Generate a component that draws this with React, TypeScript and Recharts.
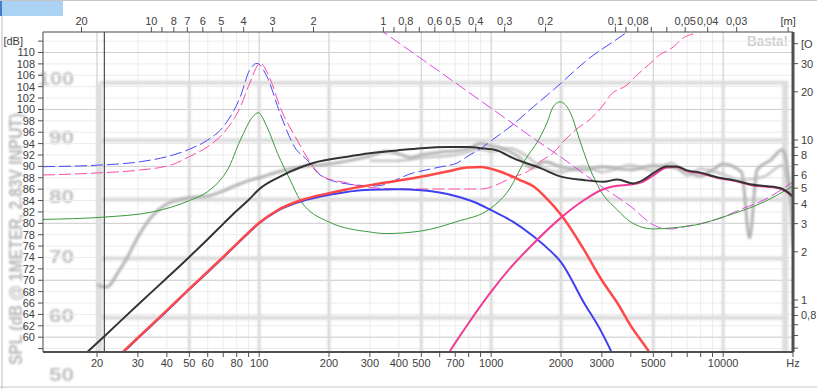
import React from 'react';
import { LineChart, Line, XAxis, YAxis, CartesianGrid, ReferenceLine } from 'recharts';

// scale limits
const F_MIN = 11.7;
const F_MAX = 20000;
const FLOOR = 57.4; // bottom of the dB scale
const DB_MAX = 113.6;
const OHM_MIN = 0.473;
const OHM_MAX = 47.3;
const SOUND = 343; // m/s, top axis is wavelength

const FREQ_TICKS = [20, 30, 40, 50, 60, 70, 80, 90, 100, 200, 300, 400, 500, 600, 700, 800, 900, 1000, 2000, 3000, 4000, 5000, 6000, 7000, 8000, 9000, 10000, 20000];
const FREQ_SILENT = [70, 90, 600, 800, 900, 4000, 6000, 7000, 8000, 9000];
const TOP_M = [20, 10, 9, 8, 7, 6, 5, 4, 3, 2, 1, 0.9, 0.8, 0.7, 0.6, 0.5, 0.4, 0.3, 0.2, 0.1, 0.09, 0.08, 0.07, 0.06, 0.05, 0.04, 0.03, 0.018];
const TOP_SILENT = [9, 0.9, 0.7, 0.09, 0.07, 0.06];
const DB_TICKS = [58, 60, 62, 64, 66, 68, 70, 72, 74, 76, 78, 80, 82, 84, 86, 88, 90, 92, 94, 96, 98, 100, 102, 104, 106, 108, 110, 112];
const OHM_TICKS = [0.5, 0.6, 0.7, 0.8, 0.9, 1, 2, 3, 4, 5, 6, 7, 8, 9, 10, 20, 30, 40];
const OHM_LABELED = [0.8, 1, 2, 3, 4, 5, 6, 8, 10, 20, 30];

const GRID_F_STRONG = [20, 50, 100, 200, 500, 1000, 2000, 5000, 10000];
const GRID_DB_STRONG = [60, 70, 80, 90, 100, 110];
const MARKER_F = 21.5;

// background scan (measured response) - its grid in our dB units
const BG_LEVELS = [104.7, 94.6, 84.2, 73.8, 63.4];
const BG_FREQS = [20.5, 50, 100, 200, 500, 1000, 2000, 5000, 10000, 18500];
const BG_LABELS = ['100', '90', '80', '70', '60', '50'];

// [Hz, dB]
const bgTraceA = [[20, 69.2], [22, 68.8], [25, 71.8], [27, 74], [30, 77.6], [35, 81.5], [40, 83.4], [45, 84.1], [50, 84.5], [60, 84.8], [70, 85.7], [80, 86.7], [90, 87.5], [100, 88.0], [120, 89.0], [150, 89.9], [200, 90.4], [250, 91.1], [300, 91.8], [350, 92.6], [400, 92.2], [450, 91.5], [500, 92.0], [600, 92.5], [700, 92.7], [800, 93.1], [900, 94.0], [1000, 93.6], [1100, 93.3], [1300, 91.8], [1500, 89.7], [1700, 90.8], [2000, 89.9], [2500, 89.4], [3000, 89.9], [4000, 89.4], [5000, 90.1], [6000, 89.9], [7000, 89.0], [8000, 88.3], [9000, 89.4], [10000, 90.4], [12000, 89.0], [13000, 77.4], [14000, 89.4], [16000, 91.1], [18000, 92.9], [19500, 84.1], [20000, 76.2]];
const bgTraceB = [[300, 91.0], [400, 91.0], [500, 91.5], [700, 92.0], [900, 93.0], [1000, 92.6], [1200, 93.2], [1400, 92.0], [1600, 90.2], [2000, 89.0], [2500, 90.0], [3000, 89.0], [4000, 90.2], [5000, 89.2], [6000, 90.6], [7000, 88.4], [8000, 89.6], [10000, 88.6], [12000, 87.6], [15000, 88.2], [18000, 90.2], [20000, 82.0]];

const sumSpl = [[11.7, 50.1], [16, 55.3], [21.3, 60], [30, 65.7], [40, 70.4], [50, 74.1], [60, 77.2], [70, 79.9], [80, 82.2], [90, 84.1], [100, 86.0], [123, 88.2], [150, 89.8], [171, 90.6], [240, 91.7], [300, 92.3], [393, 92.8], [500, 93.2], [646, 93.4], [800, 93.4], [900, 93.2], [1060, 92.8], [1250, 91.4], [1630, 89.7], [2000, 88.2], [2500, 87.6], [3050, 87.3], [3500, 87.7], [4100, 87.0], [4600, 87.8], [5000, 88.8], [5700, 90.0], [6300, 90.0], [7000, 89.3], [8000, 88.9], [9600, 88.0], [11000, 87.6], [13300, 86.8], [17600, 86.2], [20000, 84.7]];
const wooferA = [[11.7, 44.0], [20, 53.0], [26, 57.4], [30, 59.8], [40, 64.6], [50, 68.4], [60, 71.4], [70, 74.0], [80, 76.3], [90, 78.3], [100, 80.0], [120, 82.2], [150, 83.8], [200, 85.0], [300, 85.9], [400, 86.0], [500, 85.8], [600, 85.4], [700, 84.8], [850, 83.7], [1000, 82.3], [1250, 80.2], [1500, 77.9], [1750, 75.6], [2000, 73.2], [2500, 66.2], [3000, 60.8], [3300, 57.4], [4000, 49.0]];
const wooferB = [[11.7, 44.1], [20, 53.1], [26, 57.5], [30, 59.9], [40, 64.7], [50, 68.5], [60, 71.5], [70, 74.1], [80, 76.4], [90, 78.4], [100, 80.1], [120, 82.3], [150, 84.0], [200, 85.3], [240, 86.0], [330, 87.0], [460, 87.9], [646, 89.1], [790, 89.8], [900, 89.9], [1090, 89.1], [1330, 87.6], [1520, 86.5], [1750, 84.2], [2000, 81.5], [2500, 75.5], [3000, 70.0], [3500, 66.0], [4000, 62.0], [4800, 57.4], [5500, 53.5]];
const tweeter = [[500, 49.8], [600, 54.8], [660, 57.4], [700, 59.0], [800, 62.5], [1000, 68.0], [1200, 72.0], [1500, 76.2], [2000, 81.0], [2500, 84.0], [3000, 85.9], [3500, 86.6], [4000, 86.8], [4500, 87.3], [5000, 88.4], [5700, 89.8], [6300, 89.9], [7000, 89.2], [8000, 88.8], [9600, 87.9], [11000, 87.5], [13300, 86.7], [17600, 86.1], [20000, 84.6]];

// [Hz, Ohm]
const zSystem = [[11.7, 3.19], [21, 3.29], [35, 3.56], [50, 4.18], [60, 4.76], [68, 5.62], [73, 6.49], [83, 10], [94, 14.0], [99, 14.8], [108, 12.1], [120, 8.25], [136, 5.62], [150, 4.22], [200, 3.07], [300, 2.66], [350, 2.6], [500, 2.7], [700, 3.07], [1000, 3.76], [1200, 4.94], [1400, 7.5], [1600, 10], [1740, 12.8], [1850, 16.1], [1980, 17.3], [2200, 14.7], [2430, 9.58], [2680, 6.49], [2950, 4.87], [3500, 3.65], [4000, 3.07], [5000, 2.78], [6000, 2.82], [8000, 2.99], [10000, 3.3], [15000, 4.1], [20000, 5.16]];
const zWooferA = [[11.7, 6.81], [21, 6.98], [30.7, 7.31], [42.6, 8.06], [50, 8.75], [60, 10], [70, 12.1], [83, 18.7], [91, 27.4], [98, 30.1], [108, 24.9], [123, 14.7], [143, 8.91], [161, 7.5], [183, 6.04], [240, 5.31], [316, 5.16], [461, 6.22], [602, 6.78], [713, 7.18], [795, 7.94], [922, 9.04], [1010, 10], [1205, 12.06], [1518, 16.1], [1850, 20.5], [2590, 31.6], [3850, 47.3], [5000, 64]];
const zWooferB = [[11.7, 6.04], [21.3, 6.25], [30.7, 6.49], [42.6, 7.05], [50, 7.87], [60, 9.08], [70, 11.0], [83, 16.1], [91, 22.6], [101, 30.1], [112, 23.7], [123, 16.1], [143, 10.5], [189, 5.9], [240, 5.38], [281, 5.1], [405, 4.94], [733, 4.94], [898, 4.94], [1250, 5.87], [1470, 6.49], [1620, 7.3], [1850, 8.3], [2080, 10], [2370, 11.9], [2590, 13], [3040, 16.5], [3270, 19.1], [3850, 22.1], [4170, 24.8], [4930, 30.8], [5190, 33.1], [6090, 38.1], [6720, 43.4], [7700, 47.3], [9000, 58]];
const zTweeter = [[250, 65.8], [343, 47.3], [500, 32.2], [700, 22.8], [1000, 15.8], [1500, 10.4], [2000, 7.8], [3000, 5.1], [4000, 3.84], [5000, 2.95], [5500, 2.8], [6000, 2.78], [7000, 2.9], [8000, 3.0], [10000, 3.3], [12000, 3.7], [15000, 4.22], [20000, 5.47]];

const pts = (a: number[][]) => a.map(([f, v]) => ({ f, v }));
const comma = (n: number) => String(n).replace('.', ',');

const fmtFreq = (v: number) => {
  if (v === 20000) return 'Hz';
  if (FREQ_SILENT.includes(v)) return '';
  return String(v);
};

const fmtTop = (_v: number, i: number) => {
  const m = TOP_M[i];
  if (m === 0.018) return '[m]';
  if (TOP_SILENT.includes(m)) return '';
  return comma(m);
};

// unit label is cut by the window edge in the original, only "[O" shows
const fmtOhm = (v: number) => {
  if (v === 40) return '[O';
  return OHM_LABELED.includes(v) ? comma(v) : '';
};

const DbTick = (p: any) => {
  const v = p.payload.value;
  const label = v === 112 ? '[dB]' : v < 60 ? '' : String(v);
  return (
    <text x={v === 112 ? p.x - 12 : p.x} y={p.y} dy={4} textAnchor="end" fontSize={11} fill="#404040">
      {label}
    </text>
  );
};

const axisFont = { fontSize: 11, fill: '#404040' };

export default function App() {
  return (
    <div style={{ position: 'absolute', left: 0, top: 0, width: 817, height: 389, overflow: 'hidden', background: '#fff', fontFamily: '"Liberation Sans", Arial, sans-serif' }}>
      <style>{`.bgtrace, .bgline, .bgtext { filter: blur(0.9px); }`}</style>

      {/* window chrome + blurred scan labels behind the chart */}
      <svg width={817} height={389} style={{ position: 'absolute', left: 0, top: 0 }}>
        <line x1={0} y1={0.5} x2={817} y2={0.5} stroke="#c4c4c4" />
        <rect x={0} y={1} width={63} height={15} fill="#abd1f3" />
        <rect x={0} y={1} width={2} height={15} fill="#3f7fc6" />
        <line x1={2} y1={16} x2={2} y2={389} stroke="#dedede" strokeWidth={2} />
        <line x1={0} y1={387} x2={817} y2={387} stroke="#c8c8c8" />
        <g className="bgtext" fill="#c2c2c2" fontWeight="bold" fontSize={18}>
          {BG_LABELS.map((t, i) => (
            <text key={t} x={74} y={85 + i * 59.2} textAnchor="end" textLength={t.length === 3 ? 36 : 25} lengthAdjust="spacingAndGlyphs">
              {t}
            </text>
          ))}
          <text x={0} y={0} transform="translate(22,239) rotate(-90)" textAnchor="middle" fontSize={19} textLength={252} lengthAdjust="spacingAndGlyphs" fill="#b8b8b8">
            SPL (dB @ 1METER, 2.83V INPUT)
          </text>
        </g>
        <text x={747} y={46} fontSize={15} fontWeight="bold" fill="#d0d0d0" textLength={41} lengthAdjust="spacingAndGlyphs">
          Basta!
        </text>
      </svg>

      <div style={{ position: 'absolute', left: 0, top: 0 }}>
        <LineChart width={817} height={389} margin={{ top: 0, right: 0, bottom: 0, left: 0 }}>
          <CartesianGrid stroke="#ececec" />
          <XAxis xAxisId={0} dataKey="f" type="number" scale="log" domain={[F_MIN, F_MAX]} allowDataOverflow ticks={FREQ_TICKS} interval={0} tickFormatter={fmtFreq} height={37} tickSize={5} tickMargin={2} axisLine={{ stroke: '#505050', strokeWidth: 2 }} tickLine={{ stroke: '#505050' }} tick={axisFont} />
          <XAxis xAxisId="top" orientation="top" dataKey="f" type="number" scale="log" domain={[F_MIN, F_MAX]} allowDataOverflow ticks={TOP_M.map((m) => SOUND / m)} interval={0} tickFormatter={fmtTop} height={32} tickSize={5} tickMargin={2} axisLine={{ stroke: '#505050' }} tickLine={{ stroke: '#505050' }} tick={axisFont} />
          <YAxis yAxisId={0} type="number" domain={[FLOOR, DB_MAX]} allowDataOverflow ticks={DB_TICKS} interval={0} width={43} tickSize={5} tickMargin={3} axisLine={{ stroke: '#505050' }} tickLine={{ stroke: '#505050' }} tick={<DbTick />} />
          <YAxis yAxisId="ohm" orientation="right" type="number" scale="log" domain={[OHM_MIN, OHM_MAX]} allowDataOverflow ticks={OHM_TICKS} interval={0} tickFormatter={fmtOhm} width={24} tickSize={5} tickMargin={3} axisLine={{ stroke: '#505050', strokeWidth: 3 }} tickLine={{ stroke: '#505050' }} tick={{ ...axisFont, textAnchor: 'start' }} />

          {GRID_F_STRONG.map((f) => (
            <ReferenceLine key={'gf' + f} x={f} stroke="#d0d0d0" />
          ))}
          {GRID_DB_STRONG.map((d) => (
            <ReferenceLine key={'gd' + d} y={d} stroke="#d0d0d0" />
          ))}

          {BG_LEVELS.map((d) => (
            <ReferenceLine key={'bl' + d} className="bgline" segment={[{ x: 20.5, y: d }, { x: 19000, y: d }]} stroke="#dcdcdc" strokeWidth={4} />
          ))}
          {BG_FREQS.map((f) => (
            <ReferenceLine key={'bf' + f} className="bgline" segment={[{ x: f, y: BG_LEVELS[0] }, { x: f, y: FLOOR }]} stroke="#dedede" strokeWidth={f === 20.5 || f === 18500 ? 6 : 3} />
          ))}

          <Line className="bgtrace" data={pts(bgTraceB)} dataKey="v" type="monotone" stroke="#c4c4c4" strokeWidth={2.5} dot={false} activeDot={false} isAnimationActive={false} />
          <Line className="bgtrace" data={pts(bgTraceA)} dataKey="v" type="monotone" stroke="#b4b4b4" strokeWidth={3} dot={false} activeDot={false} isAnimationActive={false} />

          <ReferenceLine x={MARKER_F} stroke="#2a2a2a" />

          <Line yAxisId="ohm" data={pts(zWooferA)} dataKey="v" type="monotone" stroke="#4848ff" strokeWidth={1} strokeDasharray="12 4" dot={false} activeDot={false} isAnimationActive={false} />
          <Line yAxisId="ohm" data={pts(zWooferB)} dataKey="v" type="monotone" stroke="#ff4aa8" strokeWidth={1} strokeDasharray="12 4" dot={false} activeDot={false} isAnimationActive={false} />
          <Line yAxisId="ohm" data={pts(zTweeter)} dataKey="v" type="monotone" stroke="#e048e4" strokeWidth={1} strokeDasharray="12 4" dot={false} activeDot={false} isAnimationActive={false} />
          <Line yAxisId="ohm" data={pts(zSystem)} dataKey="v" type="monotone" stroke="#3a9a3a" strokeWidth={1} dot={false} activeDot={false} isAnimationActive={false} />

          <Line data={pts(wooferA)} dataKey="v" type="monotone" stroke="#4040f0" strokeWidth={2} dot={false} activeDot={false} isAnimationActive={false} />
          <Line data={pts(wooferB)} dataKey="v" type="monotone" stroke="#ff4848" strokeWidth={2.5} dot={false} activeDot={false} isAnimationActive={false} />
          <Line data={pts(tweeter)} dataKey="v" type="monotone" stroke="#f03c96" strokeWidth={2} dot={false} activeDot={false} isAnimationActive={false} />
          <Line data={pts(sumSpl)} dataKey="v" type="monotone" stroke="#333333" strokeWidth={2} dot={false} activeDot={false} isAnimationActive={false} />
        </LineChart>
      </div>
    </div>
  );
}
